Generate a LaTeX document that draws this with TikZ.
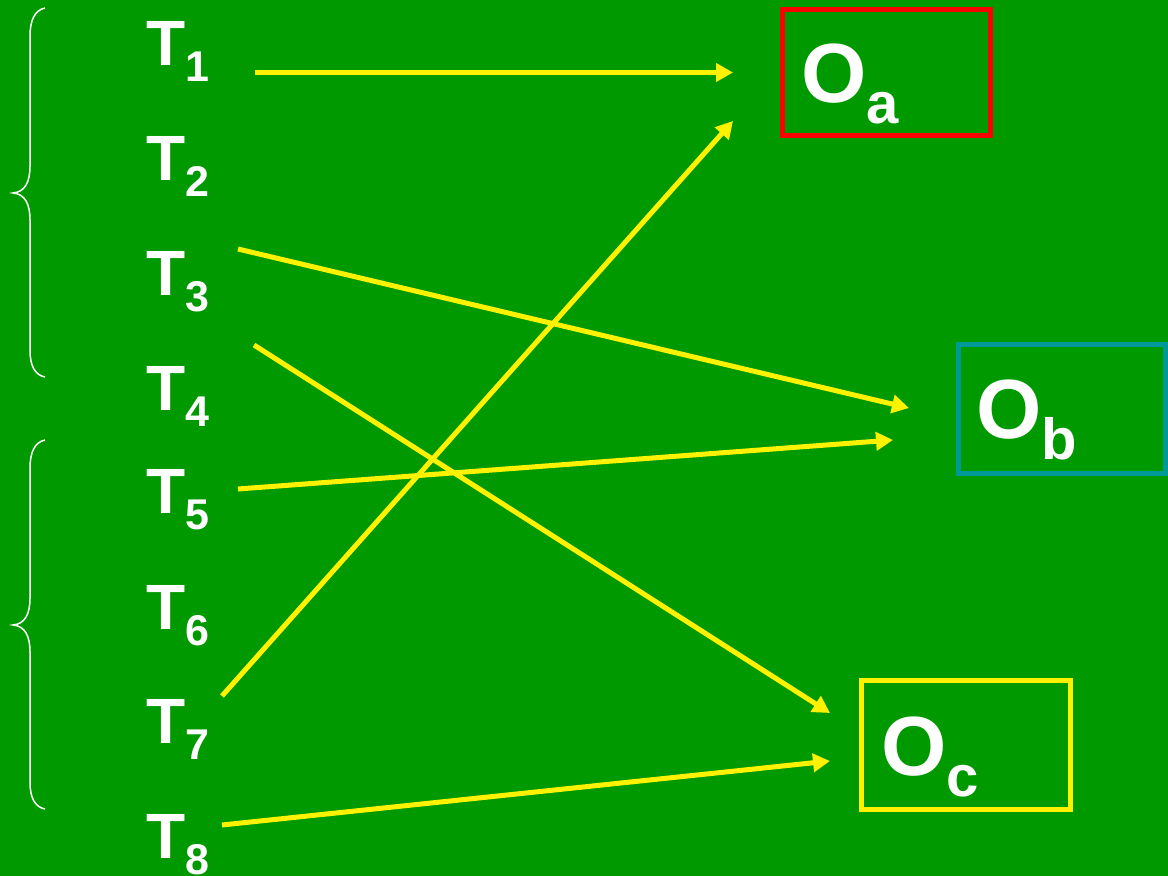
\documentclass[tikz,border=0pt]{standalone}
\usepackage{fontspec}
\setmainfont{Liberation Sans}
\usetikzlibrary{arrows.meta}
\definecolor{bggreen}{RGB}{0,153,0}
\definecolor{tealbox}{RGB}{0,153,153}
\newcommand\mysubT[1]{\raisebox{-16pt}{\fontsize{43}{43}\selectfont #1}}
\newcommand\mysubO[1]{\raisebox{-21pt}{\fontsize{58}{58}\selectfont #1}}
\begin{document}
\begin{tikzpicture}[x=1pt,y=-1pt,
  tlab/.style={anchor=base west, inner sep=0pt, text=white, font=\bfseries\fontsize{64}{64}\selectfont},
  olab/.style={anchor=base west, inner sep=0pt, text=white, font=\bfseries\fontsize{84}{84}\selectfont},
  obox/.style={draw=#1, line width=5pt, inner sep=0pt, rectangle},
  arr/.style={draw=yellow, line width=5pt, -{Triangle[length=17pt,width=18pt]}},
  bracepath/.style={draw=white, line width=1.5pt}]
\fill[bggreen] (0,0) rectangle (1168,876);
\useasboundingbox (0,0) rectangle (1168,876);

% braces
\foreach \dy in {0,432}{
  \draw[bracepath] (45,8+\dy) .. controls (35,10+\dy) and (30,20+\dy) .. (30,36+\dy)
    -- (30,166+\dy) .. controls (30,182+\dy) and (25,192+\dy) .. (13,193+\dy)
    .. controls (25,194+\dy) and (30,204+\dy) .. (30,220+\dy)
    -- (30,350+\dy) .. controls (30,366+\dy) and (35,375+\dy) .. (45,377+\dy);
}

% T labels
\node[tlab] (t1) at (146,65) {T\mysubT{1}};
\node[tlab] (t2) at (146,180) {T\mysubT{2}};
\node[tlab] (t3) at (146,295) {T\mysubT{3}};
\node[tlab] (t4) at (146,410) {T\mysubT{4}};
\node[tlab] (t5) at (146,513) {T\mysubT{5}};
\node[tlab] (t6) at (146,629) {T\mysubT{6}};
\node[tlab] (t7) at (146,743) {T\mysubT{7}};
\node[tlab] (t8) at (146,858) {T\mysubT{8}};

% boxes
\node[obox=red, minimum width=208pt, minimum height=126pt] (oa) at (886.5,72.5) {};
\node[obox=tealbox, minimum width=206.5pt, minimum height=128.5pt] (ob) at (1061.75,408.75) {};
\node[obox=yellow, minimum width=209pt, minimum height=129pt] (oc) at (966,745) {};

\node[olab] (oalab) at (801,102) {O\mysubO{a}};
\node[olab] (oblab) at (976,438) {O\mysubO{b}};
\node[olab] (oclab) at (881,775) {O\mysubO{c}};

% connector ends
\coordinate (s1) at (255,72.5);  \coordinate (e1) at (733,72.5);
\coordinate (s2) at (222,696);   \coordinate (e2) at (733,121);
\coordinate (s3) at (238,249);   \coordinate (e3) at (909,408);
\coordinate (s4) at (238,489);   \coordinate (e4) at (893,440);
\coordinate (s5) at (254,345);   \coordinate (e5) at (830,713);
\coordinate (s6) at (222,825);   \coordinate (e6) at (830,761);

\draw[arr] (s1) -- (e1);
\draw[arr] (s2) -- (e2);
\draw[arr] (s3) -- (e3);
\draw[arr] (s4) -- (e4);
\draw[arr] (s5) -- (e5);
\draw[arr] (s6) -- (e6);
\end{tikzpicture}
\end{document}
